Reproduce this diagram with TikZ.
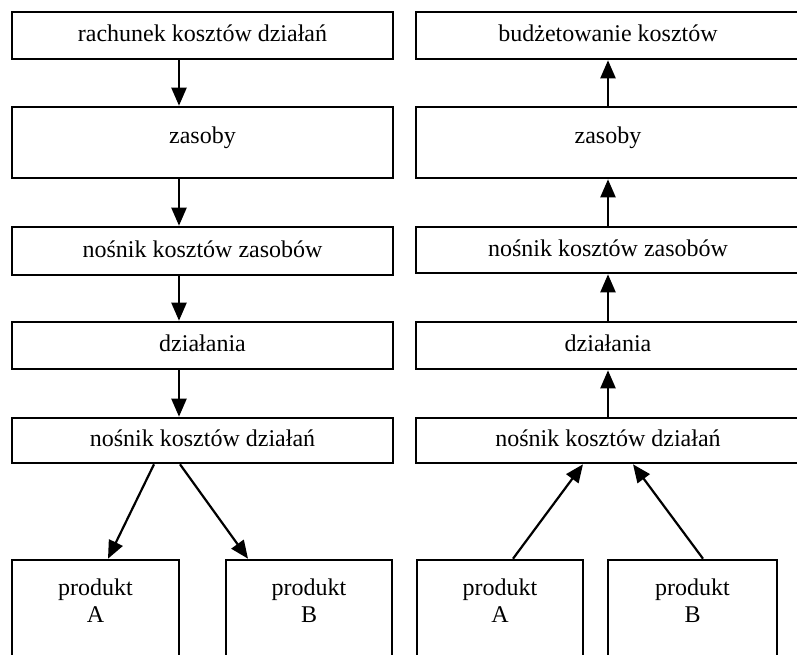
\documentclass[tikz,border=0pt]{standalone}
\usepackage{fontspec}
\setmainfont{Liberation Serif}
\usetikzlibrary{arrows.meta}
\tikzset{
  box/.style={draw, line width=2.6pt, rectangle, inner sep=0pt, text height=17pt, text depth=5pt},
  lbox/.style={box, minimum width=381pt},
  rbox/.style={box, minimum width=384pt},
  pbox/.style={box, minimum height=100pt},
  ptext/.style={align=center},
  arr/.style={line width=2.2pt, -{Triangle[length=18pt,width=15pt]}},
}
\begin{document}
\begin{tikzpicture}[x=1pt, y=-1pt, font=\fontsize{24}{27}\selectfont]
\useasboundingbox (0,0) rectangle (797,655);
\clip (0,0) rectangle (797,655);

% left column
\node[lbox, minimum height=47pt] (l1) at (202.5,35.5) {rachunek kosztów działań};
\node[lbox, minimum height=71pt, text depth=14pt] (l2) at (202.5,142.5) {zasoby};
\node[lbox, minimum height=48pt] (l3) at (202.5,251) {nośnik kosztów zasobów};
\node[lbox, minimum height=47pt] (l4) at (202.5,345.5) {działania};
\node[lbox, minimum height=45pt] (l5) at (202.5,440.5) {nośnik kosztów działań};

\node[pbox, minimum width=167pt] (lA) at (95.5,610) {};
\node[pbox, minimum width=166pt] (lB) at (309,610) {};
\node[ptext] (lAtxt) at (95.5,601) {produkt\\A};
\node[ptext] (lBtxt) at (309,601) {produkt\\B};

% right column
\node[rbox, minimum height=47pt] (r1) at (608,35.5) {budżetowanie kosztów};
\node[rbox, minimum height=71pt, text depth=14pt] (r2) at (608,142.5) {zasoby};
\node[rbox, minimum height=46pt] (r3) at (608,250) {nośnik kosztów zasobów};
\node[rbox, minimum height=47pt] (r4) at (608,345.5) {działania};
\node[rbox, minimum height=45pt] (r5) at (608,440.5) {nośnik kosztów działań};

\node[pbox, minimum width=166pt] (rA) at (500,610) {};
\node[pbox, minimum width=169pt] (rB) at (692.5,610) {};
\node[ptext] (rAtxt) at (500,601) {produkt\\A};
\node[ptext] (rBtxt) at (692.5,601) {produkt\\B};

% arrows down
\coordinate (lx) at (179,0);
\draw[arr] (l1.south -| lx) -- (l2.north -| lx);
\draw[arr] (l2.south -| lx) -- (l3.north -| lx);
\draw[arr] (l3.south -| lx) -- (l4.north -| lx);
\draw[arr] (l4.south -| lx) -- (l5.north -| lx);
\draw[arr] ([xshift=-48.5pt]l5.south) -- ([xshift=12.5pt]lA.north);
\draw[arr] ([xshift=-22.5pt]l5.south) -- ([xshift=-61pt]lB.north);

% arrows up
\draw[arr] (r2.north) -- (r1.south);
\draw[arr] (r3.north) -- (r2.south);
\draw[arr] (r4.north) -- (r3.south);
\draw[arr] (r5.north) -- (r4.south);
\draw[arr] ([xshift=13pt]rA.north) -- ([xshift=-25pt]r5.south);
\draw[arr] ([xshift=10.5pt]rB.north) -- ([xshift=25pt]r5.south);

\end{tikzpicture}
\end{document}
